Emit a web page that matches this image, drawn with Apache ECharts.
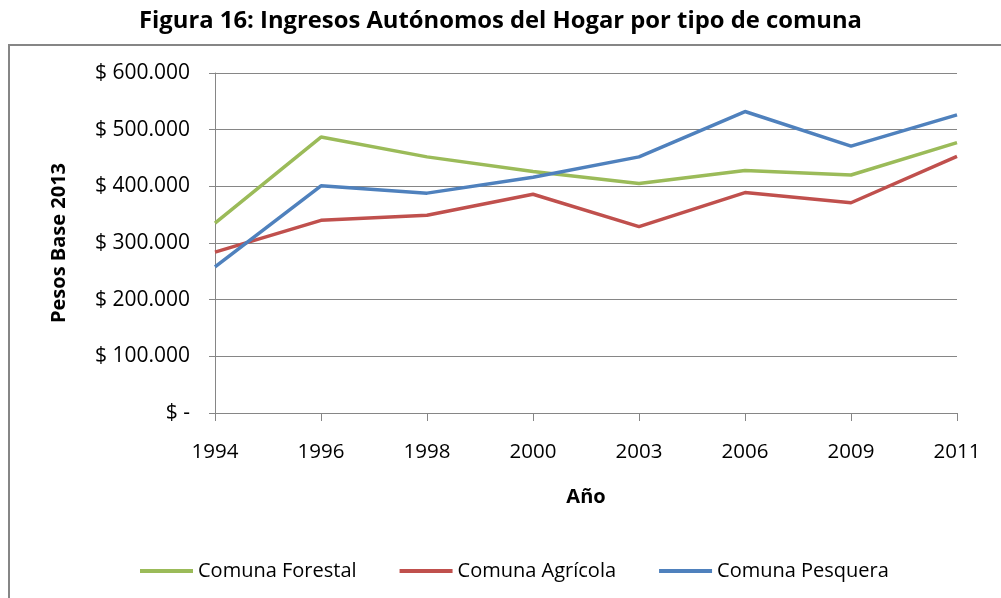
<!DOCTYPE html>
<html><head><meta charset="utf-8">
<script src="https://cdn.jsdelivr.net/npm/echarts@6/dist/echarts.min.js"></script>
<style>html,body{margin:0;padding:0;background:#fff;}#c{width:1001px;height:598px;}</style>
</head><body><div id="c"></div>
<script>
const years = ['1994','1996','1998','2000','2003','2006','2009','2011'];
const forestal = [335000, 487000, 452000, 426000, 405000, 428000, 420000, 477000];
const agricola = [284000, 340000, 349000, 386000, 329000, 389000, 371000, 453000];
const pesquera = [258000, 401000, 388000, 416000, 452000, 532000, 471000, 526000];
const seriesNames = ['Comuna Forestal','Comuna Agrícola','Comuna Pesquera'];
const colors = ['#9BBB59','#C0504D','#4F81BD'];
const font = 'Open Sans';
const chart = echarts.init(document.getElementById('c'));
function fmt(v){ if(v===0) return '$ -'; return '$ ' + String(v).replace(/\B(?=(\d{3})+(?!\d))/g,'.'); }
const mk = (name, data, color) => ({name, type:'line', data, symbol:'none', color,
  lineStyle:{width:3.5, color}, animation:false});
chart.setOption({
  animation:false,
  title:{text:'Figura 16: Ingresos Autónomos del Hogar por tipo de comuna', left:'center', top:4,
    textStyle:{fontFamily:font, fontWeight:'bold', fontSize:23.8, color:'#000'}},
  graphic:[{type:'rect', shape:{x:9,y:45,width:1100,height:700}, style:{fill:'none', stroke:'#868686', lineWidth:2}}],
  grid:{left:215, right:44, top:73, bottom:185},
  legend:{left:135, top:556, itemWidth:53, itemHeight:4, itemGap:43, icon:'rect',
    textStyle:{fontFamily:font, fontSize:20, color:'#000'}, data:seriesNames},
  xAxis:{type:'category', data:years, boundaryGap:false,
    name:'Año', nameLocation:'middle', nameGap:74,
    nameTextStyle:{fontFamily:font, fontWeight:'bold', fontSize:20, color:'#000'},
    axisLine:{lineStyle:{color:'#868686', width:1}},
    axisTick:{show:true, length:8, lineStyle:{color:'#868686'}},
    axisLabel:{margin:29, fontFamily:font, fontSize:20.5, color:'#000'}},
  yAxis:{type:'value', min:0, max:600000, interval:100000,
    name:'Pesos Base 2013', nameLocation:'middle', nameGap:146, nameRotate:90,
    nameTextStyle:{fontFamily:font, fontWeight:'bold', fontSize:20, color:'#000'},
    axisLine:{show:true, lineStyle:{color:'#868686', width:1}},
    axisTick:{show:true, length:6, lineStyle:{color:'#868686'}},
    splitLine:{lineStyle:{color:'#868686', width:1}},
    axisLabel:{margin:25, fontFamily:font, fontSize:21, color:'#000', formatter:fmt}},
  series:[mk(seriesNames[0], forestal, colors[0]), mk(seriesNames[1], agricola, colors[1]), mk(seriesNames[2], pesquera, colors[2])]
});
</script></body></html>
